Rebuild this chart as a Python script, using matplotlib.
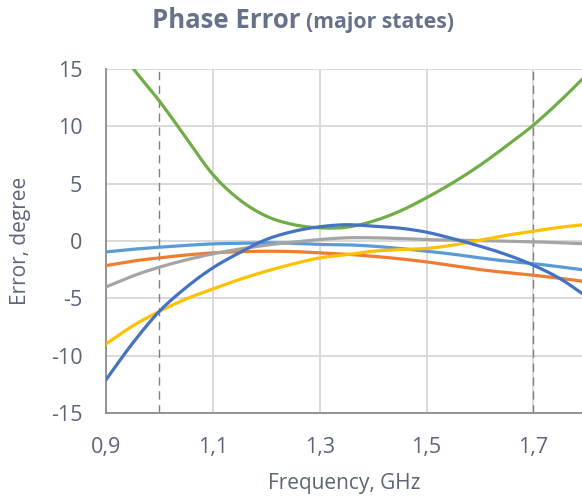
import numpy as np
import matplotlib
matplotlib.use("Agg")
import matplotlib.pyplot as plt

# --- data (degree) ---
freq = [0.90, 0.95, 1.00, 1.05, 1.10, 1.15, 1.20, 1.25, 1.30, 1.35,
        1.40, 1.45, 1.50, 1.55, 1.60, 1.65, 1.70, 1.75, 1.80]

light_blue = [-0.95, -0.72, -0.54, -0.38, -0.25, -0.20, -0.16, -0.20, -0.30, -0.33,
              -0.45, -0.65, -0.89, -1.15, -1.47, -1.75, -1.97, -2.25, -2.55]
orange = [-2.14, -1.75, -1.47, -1.22, -1.03, -0.93, -0.89, -0.92, -1.03, -1.15,
          -1.33, -1.55, -1.82, -2.15, -2.49, -2.75, -2.98, -3.25, -3.55]
gray = [-4.00, -3.05, -2.28, -1.65, -1.12, -0.70, -0.36, -0.10, 0.13, 0.28,
        0.28, 0.22, 0.13, 0.08, 0.04, -0.02, -0.07, -0.15, -0.25]
yellow = [-8.98, -7.40, -6.13, -5.05, -4.18, -3.35, -2.63, -2.00, -1.47, -1.20,
          -0.89, -0.75, -0.65, -0.35, 0.07, 0.50, 0.86, 1.20, 1.45]
green = [18.5, 15.1, 12.2, 9.0, 5.8, 3.6, 2.17, 1.44, 1.15, 1.20,
         1.73, 2.60, 3.77, 5.10, 6.60, 8.30, 10.10, 12.20, 14.50]
blue = [-12.1, -8.9, -6.13, -4.05, -2.34, -1.02, 0.13, 0.83, 1.24, 1.42,
        1.29, 1.12, 0.77, 0.20, -0.45, -1.19, -2.11, -3.28, -4.85]

band_edges = [1.0, 1.7]
xticks = [0.9, 1.1, 1.3, 1.5, 1.7]
xticklabels = ["0,9", "1,1", "1,3", "1,5", "1,7"]
yticks = [-15, -10, -5, 0, 5, 10, 15]

TXT = "#5B6478"


def smooth(x, y, n=12):
    """Catmull-Rom curve through the points (like Excel's smoothed line)."""
    x = np.asarray(x, float)
    y = np.asarray(y, float)
    px = np.concatenate([[2 * x[0] - x[1]], x, [2 * x[-1] - x[-2]]])
    py = np.concatenate([[2 * y[0] - y[1]], y, [2 * y[-1] - y[-2]]])
    t = np.linspace(0, 1, n, endpoint=False)[:, None]
    out_x, out_y = [], []
    for i in range(1, len(px) - 2):
        for p, o in ((px, out_x), (py, out_y)):
            p0, p1, p2, p3 = p[i - 1], p[i], p[i + 1], p[i + 2]
            seg = 0.5 * ((2 * p1) + (-p0 + p2) * t +
                         (2 * p0 - 5 * p1 + 4 * p2 - p3) * t ** 2 +
                         (-p0 + 3 * p1 - 3 * p2 + p3) * t ** 3)
            o.extend(seg.ravel())
    out_x.append(x[-1])
    out_y.append(y[-1])
    return np.array(out_x), np.array(out_y)


plt.rcParams['font.family'] = ['Open Sans', 'DejaVu Sans']
plt.rcParams['axes.unicode_minus'] = False

fig = plt.figure(figsize=(5.82, 4.99), dpi=100)
ax = fig.add_axes([0.182, 0.172, 0.818, 0.690])

series = [
    (light_blue, '#5B9BD5'),
    (orange, '#ED7D31'),
    (gray, '#A5A5A5'),
    (yellow, '#FFC000'),
    (green, '#70AD47'),
    (blue, '#4472C4'),
]
for vals, col in series:
    sx, sy = smooth(freq, vals)
    ax.plot(sx, sy, color=col, linewidth=2.3, solid_capstyle='round', zorder=3)

for xe in band_edges:
    ax.axvline(xe, color='#808080', linestyle=(0, (6, 4)), linewidth=1.0, zorder=2)

ax.set_xlim(0.9, 1.791)
ax.set_ylim(-15, 15)
ax.set_xticks(xticks)
ax.set_xticklabels(xticklabels)
ax.set_yticks(yticks)

ax.grid(True, color='#D9D9D9', linewidth=1.4, zorder=0)
ax.set_axisbelow(True)
for s in ['top', 'right']:
    ax.spines[s].set_visible(False)
for s in ['left', 'bottom']:
    ax.spines[s].set_color('#8C8C8C')
    ax.spines[s].set_linewidth(1.3)

ax.tick_params(axis='both', length=0, labelsize=15.5, colors=TXT, pad=17)

ax.set_xlabel('Frequency, GHz', fontsize=15, color=TXT, labelpad=11)
ax.set_ylabel('Error, degree', fontsize=15, color=TXT)
ax.yaxis.set_label_coords(-0.158, 0.5)

fig.text(0.516, 0.958, 'Phase Error', fontsize=18.5, fontweight='bold', color='#67718A',
         ha='right', va='center')
fig.text(0.526, 0.955, '(major states)', fontsize=15.3, fontweight='bold', color='#67718A',
         ha='left', va='center')

fig.savefig('out.png', dpi=100)
